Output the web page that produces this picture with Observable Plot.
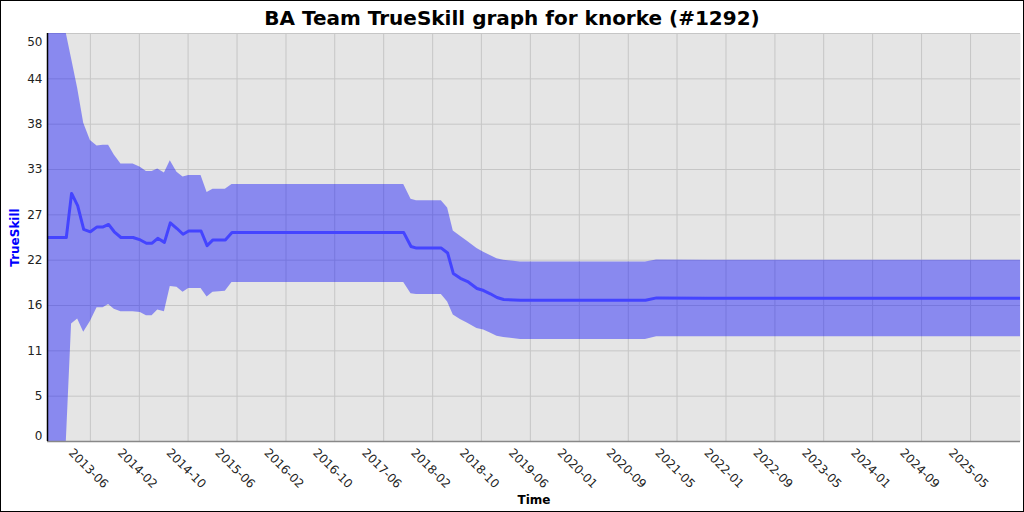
<!DOCTYPE html>
<html><head><meta charset="utf-8">
<script src="https://cdn.jsdelivr.net/npm/d3@7"></script>
<script src="https://cdn.jsdelivr.net/npm/@observablehq/plot@0.6"></script>
<style>
html,body{margin:0;padding:0;background:#fff;}
#frame{position:relative;width:1024px;height:512px;box-sizing:border-box;border:1px solid #000;overflow:hidden;font-family:"DejaVu Sans",sans-serif;}
#title{position:absolute;left:0;top:7px;width:1022px;text-align:center;font-weight:bold;font-size:20px;line-height:20px;color:#000;}
#chart{position:absolute;left:0;top:28px;}
</style></head><body>
<div id="frame"><div id="title">BA Team TrueSkill graph for knorke (#1292)</div><div id="chart"></div></div>
<script>
const dates = ["2012-11-17","2013-02-18","2013-03-16","2013-04-15","2013-05-15","2013-06-17","2013-07-20","2013-08-19","2013-09-15","2013-10-13","2013-11-15","2014-01-14","2014-02-19","2014-03-21","2014-04-18","2014-05-16","2014-06-18","2014-07-17","2014-08-19","2014-09-18","2014-10-16","2014-12-16","2015-01-15","2015-02-13","2015-04-15","2015-05-18","2017-09-13","2017-10-19","2017-11-15","2018-03-18","2018-04-18","2018-05-16","2018-06-20","2018-07-26","2018-09-10","2018-10-13","2018-11-15","2018-12-18","2019-01-20","2019-04-13","2020-12-21","2021-02-14","2021-10-24","2026-01-18"];
const mu = [25.0,25.0,30.4,28.9,26.0,25.7,26.3,26.3,26.6,25.7,25.0,25.0,24.7,24.3,24.3,24.9,24.4,26.8,26.1,25.4,25.8,25.8,24.0,24.7,24.7,25.6,25.6,23.9,23.7,23.7,23.1,20.6,20.0,19.6,18.75,18.5,18.1,17.65,17.4,17.3,17.3,17.6,17.55,17.55];
const lower = [0,0,14.4,15.0,13.4,14.7,16.4,16.4,16.8,16.2,15.9,15.9,15.8,15.4,15.4,16.1,15.9,19.0,18.9,18.3,18.75,18.75,17.7,18.3,18.4,19.5,19.5,18.1,18.0,18.0,17.1,15.5,14.95,14.5,13.85,13.65,13.3,12.9,12.75,12.5,12.5,12.85,12.83,12.83];
const upper = [50,50,46.9,43.3,39.0,36.9,36.2,36.3,36.3,35.1,34.0,34.0,33.6,33.1,33.1,33.4,32.9,34.4,33.0,32.4,32.6,32.6,30.5,30.9,30.9,31.5,31.5,29.7,29.5,29.5,28.6,25.8,25.15,24.5,23.65,23.2,22.8,22.4,22.2,22.0,22.0,22.25,22.2,22.2];
const xTickDates = ["2013-06-17","2014-02-14","2014-10-13","2015-06-12","2016-02-09","2016-10-07","2017-06-06","2018-02-03","2018-10-02","2019-06-01","2020-01-29","2020-09-27","2021-05-26","2022-01-23","2022-09-22","2023-05-21","2024-01-18","2024-09-16","2025-05-16"];
const xTickLabels = ["2013-06","2014-02","2014-10","2015-06","2016-02","2016-10","2017-06","2018-02","2018-10","2019-06","2020-01","2020-09","2021-05","2022-01","2022-09","2023-05","2024-01","2024-09","2025-05"];
const yTicks = [0,5.556,11.111,16.667,22.222,27.778,33.333,38.889,44.444,50];
const yTickLabels = ["0","5","11","16","22","27","33","38","44","50"];

const data = dates.map((d,i)=>({date:new Date(d), mu:mu[i], lo:lower[i], hi:upper[i]}));
const xt = xTickDates.map((d,i)=>({date:new Date(d), label:xTickLabels[i]}));
const yt = yTicks.map((v,i)=>({v, label:yTickLabels[i], i}));
const last = yt.length-1;

const chart = Plot.plot({
  width:1022, height:482,
  marginLeft:46, marginRight:3, marginTop:4, marginBottom:70,
  style:{fontFamily:"DejaVu Sans", fontSize:"12px", background:"transparent", overflow:"visible"},
  x:{type:"utc", domain:[data[0].date, data[data.length-1].date], axis:null},
  y:{domain:[0,50], axis:null},
  marks:[
    Plot.frame({fill:"#e5e5e5", stroke:null}),
    Plot.gridX(xt.map(d=>d.date), {stroke:"#c6c6c6", strokeOpacity:1, strokeWidth:1}),
    Plot.gridY(yTicks, {stroke:"#c6c6c6", strokeOpacity:1, strokeWidth:1}),
    Plot.areaY(data, {x:"date", y1:"lo", y2:"hi", fill:"blue", fillOpacity:0.4, clip:true}),
    Plot.line(data, {x:"date", y:"mu", stroke:"#4444ff", strokeWidth:3, clip:true}),
    Plot.ruleY([0], {stroke:"#888", strokeWidth:1.5}),
    Plot.ruleX([data[0].date], {stroke:"#000", strokeWidth:1.5}),
    Plot.text(yt.filter(d=>d.i>0 && d.i<last), {y:"v", text:"label", frameAnchor:"left", dx:-5, textAnchor:"end", fill:"#222", fontSize:12}),
    Plot.text(yt.filter(d=>d.i===last), {y:"v", text:"label", frameAnchor:"left", dx:-5, dy:9, textAnchor:"end", fill:"#222", fontSize:12}),
    Plot.text(yt.filter(d=>d.i===0), {y:"v", text:"label", frameAnchor:"left", dx:-5, dy:-5.5, textAnchor:"end", fill:"#222", fontSize:12}),
    Plot.text(xt, {x:"date", text:"label", frameAnchor:"bottom", dy:27, dx:-2, rotate:45, textAnchor:"middle", lineAnchor:"middle", fill:"#222", fontSize:12}),
    Plot.text(["TrueSkill"], {text:d=>d, frameAnchor:"left", dx:-32, rotate:-90, textAnchor:"middle", lineAnchor:"middle", fill:"blue", fontWeight:"bold", fontSize:12}),
    Plot.text(["Time"], {text:d=>d, frameAnchor:"bottom", dy:59, textAnchor:"middle", lineAnchor:"middle", fill:"#000", fontWeight:"bold", fontSize:12})
  ]
});
document.getElementById("chart").appendChild(chart);
</script>
</body></html>
